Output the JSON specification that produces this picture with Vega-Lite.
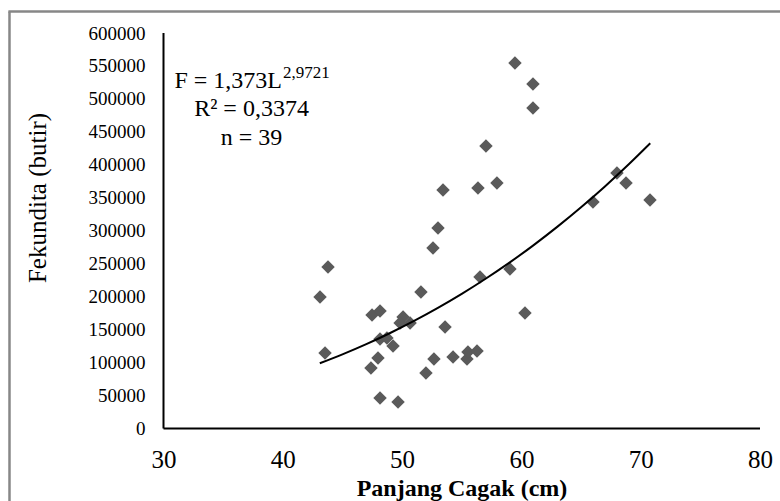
{
  "$schema": "https://vega.github.io/schema/vega-lite/v6.json",
  "width": 596.5,
  "height": 395.5,
  "autosize": {"type": "none"},
  "padding": {"left": 163.5, "top": 33, "right": 20, "bottom": 72.5},
  "background": "white",
  "config": {
    "view": {"stroke": null},
    "axisX": {
      "domain": false, "ticks": false, "tickSize": 0, "grid": false, "tickCount": 20,
      "labelPadding": 30.5, "labelBaseline": "middle", "labelAlign": "center",
      "labelFont": "Liberation Serif", "labelFontSize": 25, "labelColor": "#000000",
      "labelFlush": false, "labelOverlap": false, "format": "d",
      "titleFont": "Liberation Serif", "titleFontSize": 24, "titleFontWeight": "bold",
      "titleColor": "#000000", "titleX": 298, "titleY": 59.5, "titleBaseline": "middle", "titleAlign": "center"
    },
    "axisY": {
      "domain": false, "ticks": false, "tickSize": 0, "grid": false, "tickCount": 20,
      "labelPadding": 18.5, "labelBaseline": "middle", "labelAlign": "right",
      "labelFont": "Liberation Serif", "labelFontSize": 19, "labelColor": "#000000",
      "labelFlush": false, "labelOverlap": false, "format": "d",
      "titleFont": "Liberation Serif", "titleFontSize": 25, "titleFontWeight": "normal",
      "titleColor": "#000000", "titleX": -126, "titleY": 164.5, "titleAngle": 270,
      "titleBaseline": "middle", "titleAlign": "center"
    }
  },
  "data": {"values": [{"k": 1}]},
  "datasets": {
    "pts": [
      {"L": 43.79, "F": 245000}, {"L": 43.12, "F": 199500}, {"L": 43.54, "F": 114600},
      {"L": 53.43, "F": 361800}, {"L": 53.01, "F": 304100}, {"L": 52.59, "F": 273800},
      {"L": 51.58, "F": 207100}, {"L": 56.36, "F": 364800}, {"L": 57.95, "F": 372400},
      {"L": 59.46, "F": 554500}, {"L": 60.97, "F": 522600}, {"L": 60.97, "F": 486200},
      {"L": 57.03, "F": 428500}, {"L": 66.0, "F": 343600}, {"L": 68.01, "F": 387600},
      {"L": 68.77, "F": 372400}, {"L": 70.78, "F": 346600}, {"L": 59.04, "F": 242000},
      {"L": 56.53, "F": 229800}, {"L": 60.3, "F": 175200}, {"L": 47.48, "F": 172200},
      {"L": 48.15, "F": 178200}, {"L": 50.08, "F": 169100}, {"L": 50.67, "F": 160000},
      {"L": 49.83, "F": 160000}, {"L": 53.6, "F": 154000}, {"L": 48.15, "F": 135700},
      {"L": 48.73, "F": 137200}, {"L": 49.24, "F": 125100}, {"L": 47.98, "F": 106900},
      {"L": 47.39, "F": 91700}, {"L": 52.67, "F": 105400}, {"L": 52.0, "F": 84200},
      {"L": 54.27, "F": 108500}, {"L": 55.44, "F": 105400}, {"L": 55.52, "F": 116000},
      {"L": 56.28, "F": 117600}, {"L": 48.15, "F": 46300}, {"L": 49.66, "F": 40200}
    ],
    "curve": [
      {"L": 43.1, "F": 98965}, {"L": 45, "F": 112516}, {"L": 47, "F": 128035},
      {"L": 49, "F": 144912}, {"L": 51, "F": 163210}, {"L": 53, "F": 182975},
      {"L": 55, "F": 204266}, {"L": 57, "F": 227144}, {"L": 59, "F": 251657},
      {"L": 61, "F": 277864}, {"L": 63, "F": 305831}, {"L": 65, "F": 335607},
      {"L": 67, "F": 367232}, {"L": 69, "F": 400780}, {"L": 70.8, "F": 432664}
    ]
  },
  "layer": [
    {
      "data": {"name": "pts"},
      "mark": {"type": "point", "shape": "diamond", "filled": true, "color": "#5a5a5a", "size": 180, "opacity": 1},
      "encoding": {
        "x": {
          "field": "L", "type": "quantitative",
          "scale": {"domain": [30, 80], "nice": false, "zero": false},
          "title": "Panjang Cagak (cm)",
          "axis": {"values": [30, 40, 50, 60, 70, 80], "format": "d", "labelOverlap": false, "tickCount": 20}
        },
        "y": {
          "field": "F", "type": "quantitative",
          "scale": {"domain": [0, 600000], "nice": false, "zero": false},
          "title": "Fekundita (butir)",
          "axis": {"values": [0, 50000, 100000, 150000, 200000, 250000, 300000, 350000, 400000, 450000, 500000, 550000, 600000], "format": "d", "labelOverlap": false, "tickCount": 20}
        }
      }
    },
    {
      "mark": {"type": "rule", "color": "#878787", "strokeWidth": 2.5},
      "encoding": {
        "x": {"datum": 17.091, "type": "quantitative", "title": "Panjang Cagak (cm)"},
        "y": {"datum": 632617, "type": "quantitative", "title": "Fekundita (butir)"},
        "y2": {"datum": -120000}
      }
    },
    {
      "mark": {"type": "rule", "color": "#878787", "strokeWidth": 2.5},
      "encoding": {
        "x": {"datum": 17.0, "type": "quantitative", "title": "Panjang Cagak (cm)"},
        "x2": {"datum": 82},
        "y": {"datum": 632617, "type": "quantitative", "title": "Fekundita (butir)"}
      }
    },
    {
      "mark": {"type": "rule", "color": "#000000", "strokeWidth": 2},
      "encoding": {
        "x": {"datum": 30, "type": "quantitative", "title": "Panjang Cagak (cm)"},
        "y": {"datum": 0, "type": "quantitative", "title": "Fekundita (butir)"},
        "y2": {"datum": 600000}
      }
    },
    {
      "mark": {"type": "rule", "color": "#000000", "strokeWidth": 2},
      "encoding": {
        "x": {"datum": 30, "type": "quantitative", "title": "Panjang Cagak (cm)"},
        "x2": {"datum": 80},
        "y": {"datum": 0, "type": "quantitative", "title": "Fekundita (butir)"}
      }
    },
    {
      "data": {"name": "curve"},
      "mark": {"type": "line", "color": "#000000", "strokeWidth": 2, "interpolate": "monotone"},
      "encoding": {
        "x": {"field": "L", "type": "quantitative", "title": "Panjang Cagak (cm)"},
        "y": {"field": "F", "type": "quantitative", "title": "Fekundita (butir)"}
      }
    },
    {
      "mark": {"type": "text", "font": "Liberation Serif", "fontSize": 24, "align": "right", "baseline": "middle", "color": "#000000"},
      "encoding": {
        "x": {"datum": 39.93, "type": "quantitative", "title": "Panjang Cagak (cm)"},
        "y": {"datum": 527186, "type": "quantitative", "title": "Fekundita (butir)"},
        "text": {"value": "F = 1,373L"}
      }
    },
    {
      "mark": {"type": "text", "font": "Liberation Serif", "fontSize": 17, "align": "left", "baseline": "middle", "color": "#000000"},
      "encoding": {
        "x": {"datum": 40.02, "type": "quantitative", "title": "Panjang Cagak (cm)"},
        "y": {"datum": 539322, "type": "quantitative", "title": "Fekundita (butir)"},
        "text": {"value": "2,9721"}
      }
    },
    {
      "mark": {"type": "text", "font": "Liberation Serif", "fontSize": 24, "align": "center", "baseline": "middle", "color": "#000000"},
      "encoding": {
        "x": {"datum": 37.38, "type": "quantitative", "title": "Panjang Cagak (cm)"},
        "y": {"datum": 484710, "type": "quantitative", "title": "Fekundita (butir)"},
        "text": {"value": "R² = 0,3374"}
      }
    },
    {
      "mark": {"type": "text", "font": "Liberation Serif", "fontSize": 24, "align": "center", "baseline": "middle", "color": "#000000"},
      "encoding": {
        "x": {"datum": 37.38, "type": "quantitative", "title": "Panjang Cagak (cm)"},
        "y": {"datum": 440717, "type": "quantitative", "title": "Fekundita (butir)"},
        "text": {"value": "n = 39"}
      }
    }
  ]
}
